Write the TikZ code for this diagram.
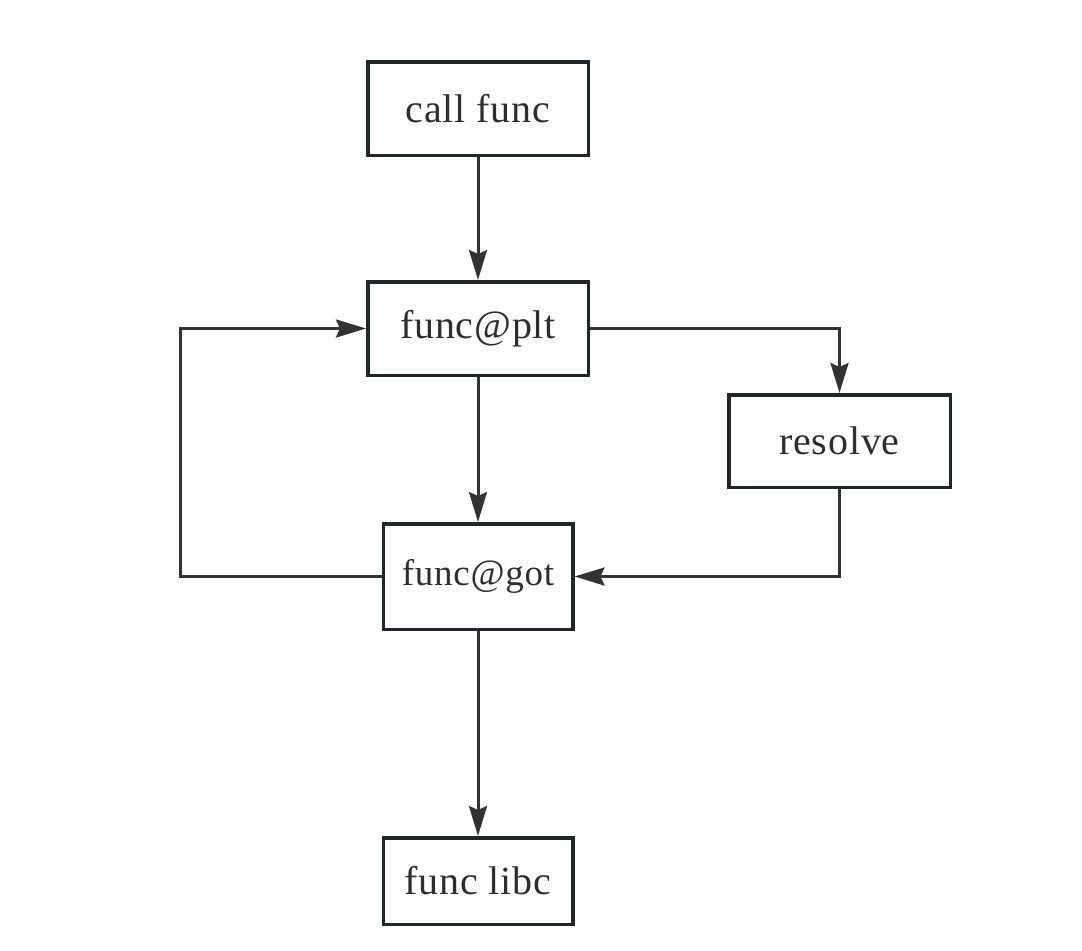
\documentclass[tikz,border=0pt]{standalone}
\usepackage{fontspec}
\setmainfont{Liberation Serif}
\newfontfamily\boxfont[LetterSpace=2]{Liberation Serif}
\usepackage{tikz}
\usetikzlibrary{positioning,arrows.meta}
\definecolor{boxline}{HTML}{20272C}
\definecolor{linkline}{HTML}{333333}
\definecolor{boxtext}{HTML}{2E2E2E}
\tikzset{
  fbox/.style={draw=boxline,line width=1.75pt,minimum width=110.25pt,minimum height=46.75pt,
            align=center,font=\boxfont\fontsize{20}{24}\selectfont,text=boxtext,
            fill=white,inner sep=0pt},
  fboxsmall/.style={fbox,minimum width=94.75pt},
  flow/.style={-{Stealth[length=15pt,width=9pt,inset=2pt]},line width=1.5pt,linkline},
}

\begin{document}
\begin{tikzpicture}[node distance=61.5pt]
  \useasboundingbox (0,0) rectangle (541pt,-475pt);
  \node[fbox] (call) at (239pt,-54.25pt) {call func};
  \node[fbox,below=of call] (plt) {func@plt};
  \node[fbox,minimum width=110.75pt,minimum height=46.25pt,
        below right=8pt and 68.5pt of plt.south east] (resolve) {resolve};
  \node[fboxsmall,minimum height=52.75pt,below=72.5pt of plt,
        font=\boxfont\fontsize{18.5}{22}\selectfont] (got) {func@got};
  \node[fboxsmall,minimum height=43.25pt,below=102.5pt of got] (libc) {func libc};
  \coordinate[left=100.5pt of got.west] (back);
  \draw[flow] (call) -- (plt);
  \draw[flow] (plt) -- (got);
  \draw[flow] (got) -- (libc);
  \draw[flow] (plt.east) -| (resolve.north);
  \draw[flow] (resolve.south) |- (got.east);
  \draw[flow] (got.west) -- (back) |- (plt.west);
\end{tikzpicture}
\end{document}
